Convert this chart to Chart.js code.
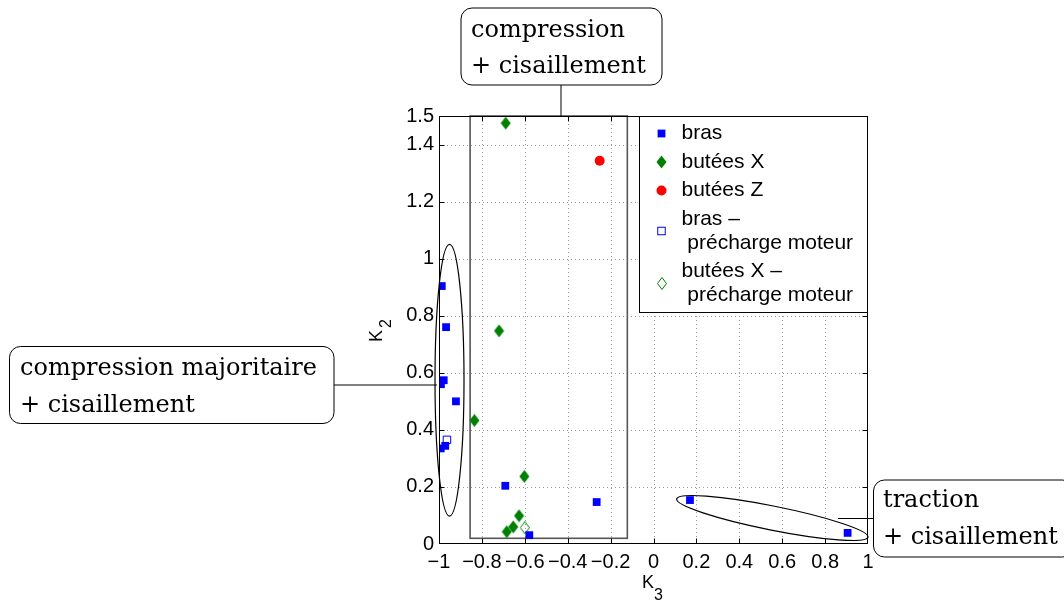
<!DOCTYPE html>
<html>
<head>
<meta charset="utf-8">
<script src="https://cdn.jsdelivr.net/npm/chart.js@4"></script>
<style>
  body { margin: 0; background: #fff; }
  #wrap { width: 1064px; height: 601px; }
</style>
</head>
<body>
<div id="wrap"><canvas id="k2k3Chart" width="1064" height="601"></canvas></div>
<script>
// values (K3 on x, K2 on y)
const brasK3 = [-0.987, -0.967, -0.978, -0.991, -0.921, -0.992, -0.971, -0.691, -0.265, -0.579, 0.170, 0.905];
const brasK2 = [0.904, 0.760, 0.574, 0.560, 0.500, 0.335, 0.344, 0.204, 0.147, 0.031, 0.154, 0.039];
const buteesXK3 = [-0.689, -0.720, -0.835, -0.602, -0.627, -0.654, -0.684];
const buteesXK2 = [1.475, 0.747, 0.433, 0.237, 0.099, 0.060, 0.043];
const buteesZK3 = [-0.251];
const buteesZK2 = [1.343];
const brasPreK3 = [-0.963];
const brasPreK2 = [0.365];
const buteesXPreK3 = [-0.600];
const buteesXPreK2 = [0.057];

const xTicks = [-1, -0.8, -0.6, -0.4, -0.2, 0, 0.2, 0.4, 0.6, 0.8, 1];
const xTickLabels = ['\u22121', '\u22120.8', '\u22120.6', '\u22120.4', '\u22120.2', '0', '0.2', '0.4', '0.6', '0.8', '1'];
const yTicks = [0, 0.2, 0.4, 0.6, 0.8, 1, 1.2, 1.4, 1.5];
const yTickLabels = ['0', '0.2', '0.4', '0.6', '0.8', '1', '1.2', '1.4', '1.5'];

const seriesLabels = [['bras'], ['butées X'], ['butées Z'], ['bras \u2013', ' précharge moteur'], ['butées X \u2013', ' précharge moteur']];

// MATLAB style diamonds (taller than wide)
function diamond(w, h, fill, stroke) {
  const c = document.createElement('canvas');
  c.width = w; c.height = h;
  const g = c.getContext('2d');
  g.beginPath();
  g.moveTo(w / 2, 0.5);
  g.lineTo(w - 0.5, h / 2);
  g.lineTo(w / 2, h - 0.5);
  g.lineTo(0.5, h / 2);
  g.closePath();
  if (fill) { g.fillStyle = fill; g.fill(); }
  if (stroke) { g.strokeStyle = stroke; g.lineWidth = 1; g.stroke(); }
  return c;
}
const diamondFull = diamond(11, 14, '#008000', null);
const diamondOpen = diamond(10, 13, null, '#008000');

const pts = (xs, ys) => xs.map((v, i) => ({ x: v, y: ys[i] }));

// shapes drawn over the axes (data units)
const zoneRect = { x0: -0.855, x1: -0.122, y0: 0.02, y1: 1.5 };
const ellipses = [
  { from: [-0.951, 1.05], to: [-0.951, 0.098], minor: 14.5 },
  { from: [0.108, 0.158], to: [1.000, 0.024], minor: 12 }
];
// callout boxes (page pixels)
const callouts = [
  { box: [461, 8, 201, 77], lines: ['compression', '+ cisaillement'], tx: 471, ty: [36.5, 73], link: [[561, 85], [561, 116]] },
  { box: [9.5, 346.5, 324.5, 77], lines: ['compression majoritaire', '+ cisaillement'], tx: 20, ty: [375, 411.5], link: [[334, 385], [437, 385]] },
  { box: [873.5, 480, 200, 77], lines: ['traction', '+ cisaillement'], tx: 883, ty: [507, 544], link: [[838, 518.5], [873.5, 518.5]] }
];

function marker(ctx, ds, x, y) {
  const s = ds.pointStyle;
  if (s instanceof HTMLCanvasElement) {
    ctx.drawImage(s, Math.round(x - s.width / 2), Math.round(y - s.height / 2));
    return;
  }
  ctx.fillStyle = ds.backgroundColor;
  ctx.strokeStyle = ds.borderColor;
  ctx.lineWidth = ds.borderWidth || 1;
  if (s === 'circle') {
    ctx.beginPath(); ctx.arc(x, y, ds.pointRadius, 0, 2 * Math.PI); ctx.fill();
  } else {
    const h = ds.pointRadius * Math.SQRT1_2;
    ctx.fillRect(x - h, y - h, 2 * h, 2 * h);
    if (ds.borderWidth) ctx.strokeRect(x - h, y - h, 2 * h, 2 * h);
  }
}

function roundRect(ctx, x, y, w, h, r) {
  ctx.beginPath();
  ctx.moveTo(x + r, y);
  ctx.arcTo(x + w, y, x + w, y + h, r);
  ctx.arcTo(x + w, y + h, x, y + h, r);
  ctx.arcTo(x, y + h, x, y, r);
  ctx.arcTo(x, y, x + w, y, r);
  ctx.closePath();
}

const figureBits = {
  id: 'figureBits',
  beforeDatasetsDraw(chart) {
    const { ctx, chartArea: a, scales: { x, y } } = chart;
    ctx.save();
    // dotted grid
    ctx.strokeStyle = '#9a9a9a';
    ctx.lineWidth = 1;
    ctx.setLineDash([1, 3]);
    xTicks.slice(1, -1).forEach(v => {
      const px = Math.round(x.getPixelForValue(v)) + 0.5;
      ctx.beginPath(); ctx.moveTo(px, a.top); ctx.lineTo(px, a.bottom); ctx.stroke();
    });
    yTicks.slice(1, -1).forEach(v => {
      const py = Math.round(y.getPixelForValue(v)) + 0.5;
      ctx.beginPath(); ctx.moveTo(a.left, py); ctx.lineTo(a.right, py); ctx.stroke();
    });
    ctx.setLineDash([]);

    // zone rectangle
    ctx.strokeStyle = '#555';
    ctx.lineWidth = 1.6;
    const rx0 = x.getPixelForValue(zoneRect.x0), rx1 = x.getPixelForValue(zoneRect.x1);
    const ry0 = y.getPixelForValue(zoneRect.y0), ry1 = y.getPixelForValue(zoneRect.y1);
    ctx.strokeRect(rx0, ry1, rx1 - rx0, ry0 - ry1);

    // ellipses
    ctx.strokeStyle = '#000';
    ctx.lineWidth = 1.2;
    ellipses.forEach(e => {
      const x1 = x.getPixelForValue(e.from[0]), y1 = y.getPixelForValue(e.from[1]);
      const x2 = x.getPixelForValue(e.to[0]), y2 = y.getPixelForValue(e.to[1]);
      const ang = Math.atan2(y2 - y1, x2 - x1);
      ctx.beginPath();
      ctx.ellipse((x1 + x2) / 2, (y1 + y2) / 2, Math.hypot(x2 - x1, y2 - y1) / 2, e.minor, ang, 0, 2 * Math.PI);
      ctx.stroke();
    });
    ctx.restore();
  },
  afterDraw(chart) {
    const { ctx, chartArea: a, scales: { x, y } } = chart;
    ctx.save();
    // axes box
    ctx.strokeStyle = '#000';
    ctx.lineWidth = 1;
    const L = Math.round(a.left) + 0.5, R = Math.round(a.right) - 0.5;
    const T = Math.round(a.top) + 0.5, B = Math.round(a.bottom) - 0.5;
    ctx.strokeRect(L, T, R - L, B - T);
    // inside tick marks
    ctx.beginPath();
    xTicks.slice(1, -1).forEach(v => {
      const px = Math.round(x.getPixelForValue(v)) + 0.5;
      ctx.moveTo(px, B); ctx.lineTo(px, B - 5);
      ctx.moveTo(px, T); ctx.lineTo(px, T + 5);
    });
    yTicks.slice(1, -1).forEach(v => {
      const py = Math.round(y.getPixelForValue(v)) + 0.5;
      ctx.moveTo(L, py); ctx.lineTo(L + 5, py);
      ctx.moveTo(R, py); ctx.lineTo(R - 5, py);
    });
    ctx.stroke();

    // legend
    const lw = 229, lh = 197;
    const lx = a.right - lw, ly = a.top;
    ctx.fillStyle = '#fff';
    ctx.fillRect(lx, ly, lw, lh);
    ctx.strokeStyle = '#000';
    ctx.strokeRect(Math.round(lx) + 0.5, Math.round(ly) + 0.5, lw - 1, lh - 1);
    ctx.font = '21px "Liberation Sans", Arial, sans-serif';
    ctx.textBaseline = 'middle';
    let ry = ly + 17.5;
    chart.data.datasets.forEach((ds, i) => {
      const lines = seriesLabels[i];
      marker(ctx, ds, lx + 22.5, ry + (lines.length - 1) * 12);
      ctx.fillStyle = '#000';
      lines.forEach((t, k) => ctx.fillText(t, lx + 42.5, ry + k * 24));
      ry += (lines.length - 1) * 24 + 28.5;
    });

    // axis titles with subscripts
    ctx.fillStyle = '#000';
    ctx.textBaseline = 'alphabetic';
    ctx.font = '18px "Liberation Sans", Arial, sans-serif';
    ctx.fillText('K', 642, 588);
    ctx.font = '16px "Liberation Sans", Arial, sans-serif';
    ctx.fillText('3', 654, 600);
    ctx.save();
    ctx.translate(382, 342);
    ctx.rotate(-Math.PI / 2);
    ctx.font = '18px "Liberation Sans", Arial, sans-serif';
    ctx.fillText('K', 0, 0);
    ctx.font = '16px "Liberation Sans", Arial, sans-serif';
    ctx.fillText('2', 14, 9);
    ctx.restore();

    // callouts
    ctx.strokeStyle = '#000';
    ctx.lineWidth = 1;
    ctx.font = '24px "DejaVu Serif", serif';
    callouts.forEach(c => {
      ctx.beginPath();
      ctx.moveTo(c.link[0][0], c.link[0][1]);
      ctx.lineTo(c.link[1][0], c.link[1][1]);
      ctx.stroke();
      roundRect(ctx, c.box[0], c.box[1], c.box[2], c.box[3], 11);
      ctx.fillStyle = '#fff';
      ctx.fill();
      ctx.stroke();
      ctx.fillStyle = '#000';
      c.lines.forEach((t, k) => ctx.fillText(t, c.tx, c.ty[k]));
    });
    ctx.restore();
  }
};

const ctx = document.getElementById('k2k3Chart').getContext('2d');

new Chart(ctx, {
  type: 'scatter',
  data: {
    datasets: [
      { label: 'bras', data: pts(brasK3, brasK2), pointStyle: 'rect', pointRadius: 5.5,
        backgroundColor: '#0000ff', borderColor: '#0000ff', borderWidth: 0 },
      { label: 'butées X', data: pts(buteesXK3, buteesXK2), pointStyle: diamondFull, pointRadius: 6,
        backgroundColor: '#008000', borderColor: '#008000', borderWidth: 0 },
      { label: 'butées Z', data: pts(buteesZK3, buteesZK2), pointStyle: 'circle', pointRadius: 5,
        backgroundColor: '#ff0000', borderColor: '#ff0000', borderWidth: 0 },
      { label: 'bras – précharge moteur', data: pts(brasPreK3, brasPreK2), pointStyle: 'rect', pointRadius: 5.3,
        backgroundColor: '#ffffff', borderColor: '#0000ff', borderWidth: 1 },
      { label: 'butées X – précharge moteur', data: pts(buteesXPreK3, buteesXPreK2), pointStyle: diamondOpen, pointRadius: 6,
        backgroundColor: 'rgba(0,0,0,0)', borderColor: '#008000', borderWidth: 1 }
    ]
  },
  options: {
    responsive: false,
    animation: false,
    layout: { padding: { top: 116, right: 196, left: 0, bottom: 0 } },
    plugins: { legend: { display: false }, tooltip: { enabled: false } },
    scales: {
      x: {
        type: 'linear', min: -1, max: 1,
        grid: { display: false, drawTicks: false },
        border: { display: false },
        afterFit: s => { s.height = 57; },
        afterBuildTicks: s => { s.ticks = xTicks.map(v => ({ value: v })); },
        ticks: {
          autoSkip: false, maxRotation: 0, minRotation: 0, padding: 6, color: '#000',
          font: { family: '"Liberation Sans", Arial, sans-serif', size: 20 },
          callback: (v, i) => xTickLabels[i]
        }
      },
      y: {
        type: 'linear', min: 0, max: 1.5,
        grid: { display: false, drawTicks: false },
        border: { display: false },
        afterFit: s => { s.width = 439; },
        afterBuildTicks: s => { s.ticks = yTicks.map(v => ({ value: v })); },
        ticks: {
          autoSkip: false, padding: 5, color: '#000',
          font: { family: '"Liberation Sans", Arial, sans-serif', size: 20 },
          callback: (v, i) => yTickLabels[i]
        }
      }
    }
  },
  plugins: [figureBits]
});
</script>
</body>
</html>
